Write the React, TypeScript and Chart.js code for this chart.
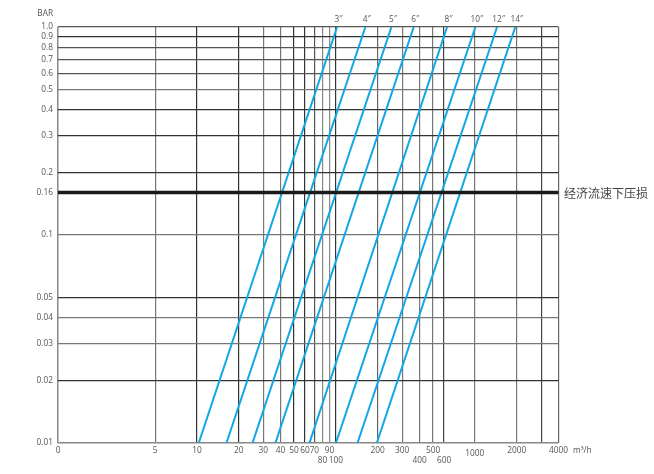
import { useEffect, useRef } from 'react';
import { Chart, registerables } from 'chart.js';

Chart.register(...registerables);

// ---- data ----
const pipeSizes = ['3″', '4″', '5″', '6″', '8″', '10″', '12″', '14″'];
const flowAtMinDrop = [10.3, 16.3, 25.1, 36.7, 64.5, 100, 143, 197];
const flowAtMaxDrop = [102, 163, 251, 363, 631, 1009, 1445, 1955];
const minDrop = 0.01;
const maxDrop = 1.0;
const economicDrop = 0.16;
const economicLabel = '经济流速下压损';
const yUnit = 'BAR';
const xUnit = 'm³/h';

const xMin = 1;
const xMax = 4000;
const xTicks = [1, 5, 10, 20, 30, 40, 50, 60, 70, 80, 90, 100, 200, 300, 400, 500, 600, 1000, 2000, 3000, 4000];
const xTickLabels = ['0', '5', '10', '20', '30', '40', '50', '60', '70', '80', '90', '100', '200', '300', '400', '500', '600', '1000', '2000', '', '4000'];
const xLowerRowTicks = [80, 100, 400, 600];
const xMidRowTicks = [1000];

const yTicks = [0.01, 0.02, 0.03, 0.04, 0.05, 0.1, 0.16, 0.2, 0.3, 0.4, 0.5, 0.6, 0.7, 0.8, 0.9, 1.0];
const yTickLabels = ['0.01', '0.02', '0.03', '0.04', '0.05', '0.1', '0.16', '0.2', '0.3', '0.4', '0.5', '0.6', '0.7', '0.8', '0.9', '1.0'];

// ---- styles ----
const BLUE = '#12a6e4';
const FONT = "'Open Sans', 'Noto Sans', sans-serif";
const TEXT = '#555';
const FS = 8.3;

const xGridColors: Record<number, string> = {
  1: '#888', 5: '#777', 10: '#333', 20: '#333', 30: '#777', 40: '#777', 50: '#333', 60: '#333',
  70: '#555', 80: '#888', 90: '#888', 100: '#333', 200: '#666', 300: '#777', 400: '#777',
  500: '#777', 600: '#444', 1000: '#777', 2000: '#777', 3000: '#444', 4000: '#666',
};
const yGridColors: Record<number, string> = {
  0.01: '#888', 0.02: '#333', 0.03: '#777', 0.04: '#777', 0.05: '#333', 0.1: '#777', 0.16: '#222',
  0.2: '#333', 0.3: '#333', 0.4: '#333', 0.5: '#777', 0.6: '#555', 0.7: '#555', 0.8: '#555',
  0.9: '#333', 1.0: '#555',
};

const textPlugin = {
  id: 'extraText',
  afterDraw(chart: any) {
    const { ctx, scales } = chart;
    const xs = scales.x;
    const ys = scales.y;
    ctx.save();
    ctx.fillStyle = TEXT;
    ctx.textBaseline = 'middle';
    ctx.font = `${FS}px ${FONT}`;
    ctx.textAlign = 'right';
    ctx.fillText(yUnit, 53, 14);
    ctx.textAlign = 'left';
    ctx.fillText(xUnit, 573, 450.5);
    ctx.textAlign = 'center';
    const topY = ys.getPixelForValue(maxDrop);
    pipeSizes.forEach((s, i) => {
      const px = xs.getPixelForValue(flowAtMaxDrop[i]);
      ctx.fillText(s, px + 1.5, topY - 7);
    });
    ctx.font = `12px 'Noto Sans CJK SC', sans-serif`;
    ctx.fillStyle = '#444';
    ctx.textAlign = 'left';
    ctx.fillText(economicLabel, 564, ys.getPixelForValue(economicDrop) + 0.5);
    ctx.restore();
  },
};

export default function App() {
  const ref = useRef<HTMLCanvasElement>(null);

  useEffect(() => {
    if (!ref.current) return;
    const datasets: any[] = pipeSizes.map((s, i) => ({
      label: s,
      data: [
        { x: flowAtMinDrop[i], y: minDrop },
        { x: flowAtMaxDrop[i], y: maxDrop },
      ],
      borderColor: BLUE,
      borderWidth: 2,
      pointRadius: 0,
      fill: false,
      tension: 0,
      order: 1,
    }));
    datasets.push({
      label: economicLabel,
      data: [
        { x: xMin, y: economicDrop },
        { x: xMax, y: economicDrop },
      ],
      borderColor: '#1a1a1a',
      borderWidth: 3.5,
      pointRadius: 0,
      fill: false,
      order: -1,
    });

    const chart = new Chart(ref.current, {
      type: 'line',
      data: { datasets },
      plugins: [textPlugin],
      options: {
        animation: false,
        responsive: false,
        events: [],
        layout: { padding: { top: 27, right: 95.5, left: 0, bottom: 0 } },
        plugins: { legend: { display: false }, tooltip: { enabled: false } },
        scales: {
          x: {
            type: 'logarithmic',
            min: xMin,
            max: xMax,
            afterBuildTicks: (scale: any) => {
              scale.ticks = xTicks.map((v) => ({ value: v }));
            },
            afterFit: (scale: any) => {
              scale.height = 31;
            },
            border: { display: false },
            grid: {
              drawTicks: false,
              color: (c: any) => xGridColors[c.tick?.value] ?? '#666',
              lineWidth: (c: any) => (c.tick?.value === xMin ? 1.5 : 1.2),
            },
            ticks: {
              autoSkip: false,
              maxRotation: 0,
              minRotation: 0,
              padding: 2,
              color: TEXT,
              font: (c: any) => {
                const v = c.tick?.value;
                let lh = 11.4;
                if (xLowerRowTicks.includes(v)) lh = 30.6;
                else if (xMidRowTicks.includes(v)) lh = 16.6;
                return { family: FONT, size: FS, lineHeight: lh / FS };
              },
              callback: (_v: any, i: number) => xTickLabels[i],
            },
          },
          y: {
            type: 'logarithmic',
            min: minDrop,
            max: maxDrop,
            afterBuildTicks: (scale: any) => {
              scale.ticks = yTicks.map((v) => ({ value: v }));
            },
            afterFit: (scale: any) => {
              scale.width = 58;
            },
            border: { display: false },
            grid: {
              drawTicks: false,
              color: (c: any) => yGridColors[c.tick?.value] ?? '#666',
              lineWidth: (c: any) => (c.tick?.value === minDrop ? 1.5 : 1.2),
            },
            ticks: {
              autoSkip: false,
              padding: 5,
              color: TEXT,
              font: { family: FONT, size: FS, lineHeight: 1.2 },
              callback: (_v: any, i: number) => yTickLabels[i],
            },
          },
        },
      },
    });
    return () => chart.destroy();
  }, []);

  return (
    <div style={{ position: 'absolute', left: 0, top: 0, width: 654, height: 474, background: '#fff' }}>
      <canvas ref={ref} width={654} height={474} style={{ display: 'block' }} />
    </div>
  );
}
